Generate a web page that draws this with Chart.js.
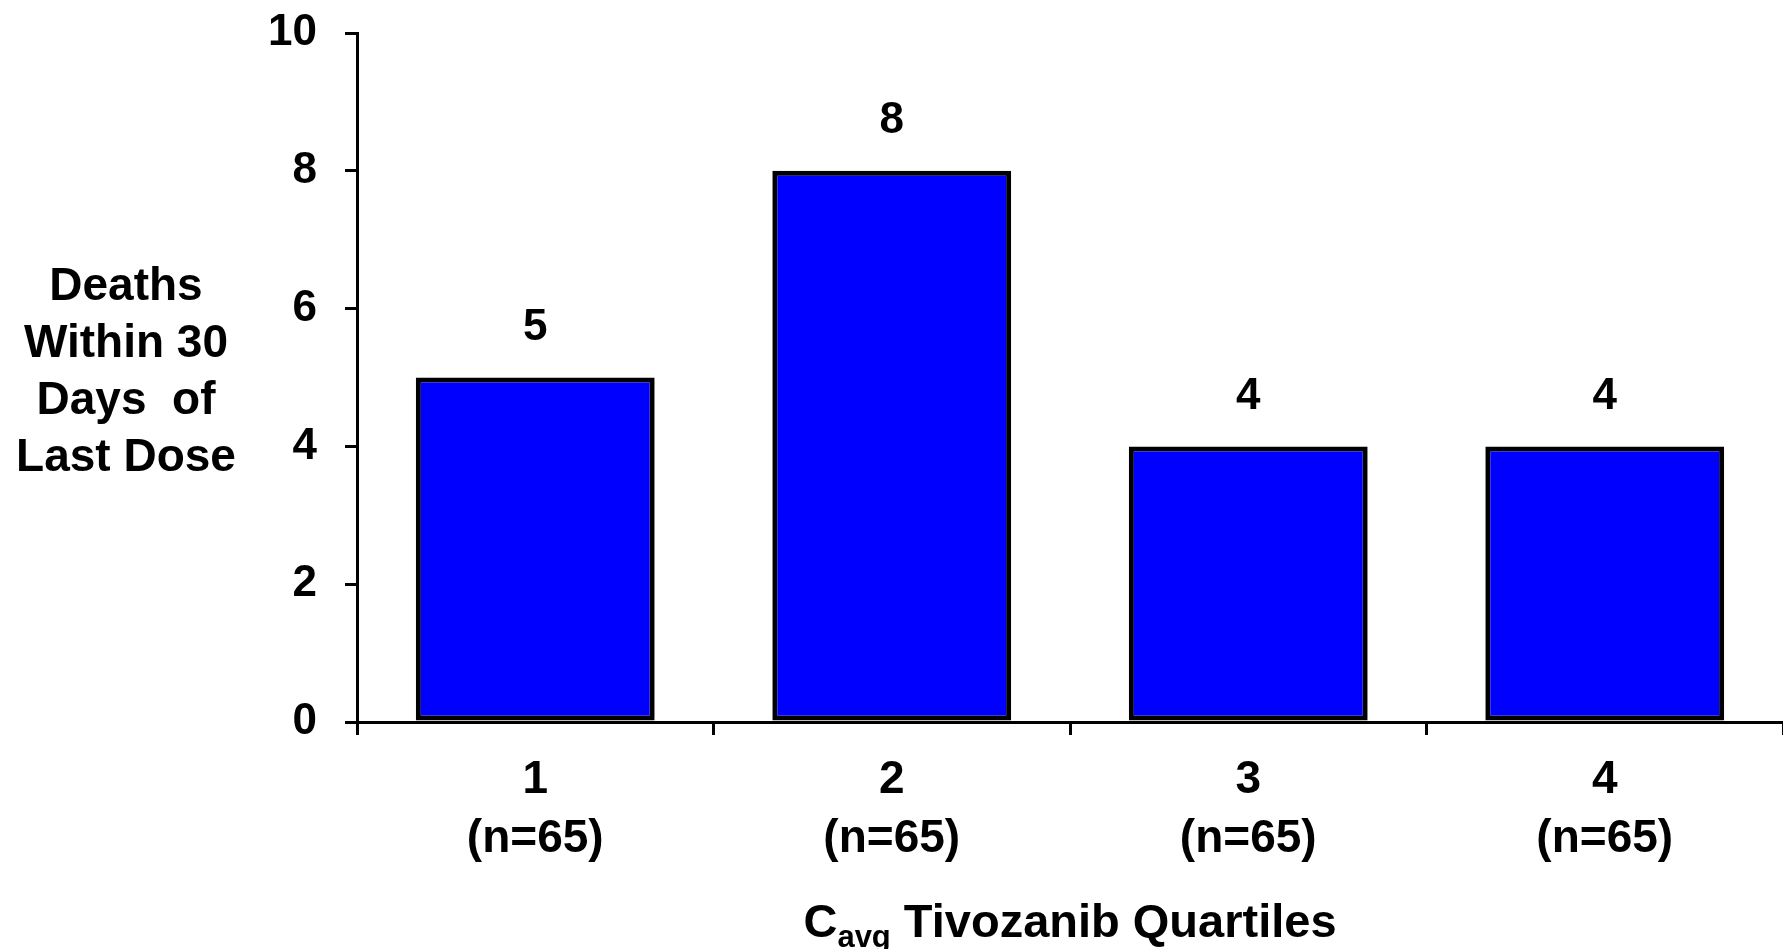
<!DOCTYPE html>
<html>
<head>
<meta charset="utf-8">
<title>Deaths within 30 days of last dose</title>
<script src="https://cdn.jsdelivr.net/npm/chart.js@4.4.0/dist/chart.umd.min.js"></script>
<style>
  html, body { margin: 0; padding: 0; background: #fff; }
  #wrap { width: 1783px; height: 949px; position: relative; }
</style>
</head>
<body>
<div id="wrap"><canvas id="chart" width="1783" height="949"></canvas></div>
<script>
// Data
const quartiles = ['1', '2', '3', '4'];
const sampleSizes = ['(n=65)', '(n=65)', '(n=65)', '(n=65)'];
const deaths = [5, 8, 4, 4];
const yTicks = [0, 2, 4, 6, 8, 10];
const yTitleLines = ['Deaths', 'Within 30', 'Days  of', 'Last Dose'];

const FONT = '"Liberation Sans", Arial, sans-serif';

// horizontal, multi-line y axis title on the left
const yTitlePlugin = {
  id: 'yTitle',
  afterDraw(chart) {
    const ctx = chart.ctx;
    const mid = (chart.chartArea.top + chart.chartArea.bottom) / 2;
    const lineH = 57;
    ctx.save();
    ctx.font = 'bold 46px ' + FONT;
    ctx.fillStyle = '#000';
    ctx.textAlign = 'center';
    ctx.textBaseline = 'alphabetic';
    const first = mid - lineH * (yTitleLines.length - 1) / 2 + 8;
    yTitleLines.forEach((line, i) => ctx.fillText(line, 126, first + i * lineH));
    ctx.restore();
  }
};

// "C avg Tivozanib Quartiles" with subscript, centred under the plot
const xTitlePlugin = {
  id: 'xTitle',
  afterDraw(chart) {
    const ctx = chart.ctx;
    const area = chart.chartArea;
    const baseY = 937;
    const bigFont = 'bold 47px ' + FONT;
    const subFont = 'bold 31px ' + FONT;
    ctx.save();
    ctx.fillStyle = '#000';
    ctx.textBaseline = 'alphabetic';
    ctx.textAlign = 'left';
    ctx.font = bigFont;
    const wC = ctx.measureText('C').width;
    const wRest = ctx.measureText(' Tivozanib Quartiles').width;
    ctx.font = subFont;
    const wSub = ctx.measureText('avg').width;
    const total = wC + wSub + wRest;
    let x = (area.left + area.right) / 2 - total / 2;
    ctx.font = bigFont;
    ctx.fillText('C', x, baseY);
    x += wC;
    ctx.font = subFont;
    ctx.fillText('avg', x, baseY + 10);
    x += wSub;
    ctx.font = bigFont;
    ctx.fillText(' Tivozanib Quartiles', x, baseY);
    ctx.restore();
  }
};

// value labels above bars
const valueLabelPlugin = {
  id: 'valueLabels',
  afterDatasetsDraw(chart) {
    const ctx = chart.ctx;
    const meta = chart.getDatasetMeta(0);
    ctx.save();
    ctx.font = 'bold 44px ' + FONT;
    ctx.fillStyle = '#000';
    ctx.textAlign = 'center';
    ctx.textBaseline = 'middle';
    meta.data.forEach((bar, i) => {
      ctx.fillText(String(deaths[i]), bar.x, bar.y - 50);
    });
    ctx.restore();
  }
};

new Chart(document.getElementById('chart'), {
  type: 'bar',
  data: {
    labels: quartiles.map((q, i) => [q, sampleSizes[i]]),
    datasets: [{
      data: deaths,
      backgroundColor: '#0000ff',
      borderColor: '#000',
      borderWidth: 5,
      borderSkipped: false,
      barPercentage: 0.67,
      categoryPercentage: 1
    }]
  },
  options: {
    responsive: false,
    animation: false,
    layout: { padding: { top: 33, right: 0, left: 0, bottom: 0 } },
    plugins: {
      legend: { display: false },
      tooltip: { enabled: false }
    },
    scales: {
      x: {
        grid: { drawOnChartArea: false, tickLength: 13, color: '#000', lineWidth: 3 },
        border: { color: '#000', width: 3 },
        ticks: {
          color: '#000',
          font: { family: FONT, size: 46, weight: 'bold', lineHeight: 1.28 },
          padding: 16
        },
        afterFit(scale) { scale.height = 949 - 722; }
      },
      y: {
        min: 0,
        max: 10,
        afterBuildTicks(scale) { scale.ticks = yTicks.map(v => ({ value: v })); },
        grid: { drawOnChartArea: false, tickLength: 12, color: '#000', lineWidth: 3 },
        border: { color: '#000', width: 3 },
        ticks: {
          color: '#000',
          font: { family: FONT, size: 44, weight: 'bold' },
          padding: 28
        },
        afterFit(scale) {
          scale.width = 357;
          scale.paddingTop = 0;
          scale.paddingBottom = 0;
        }
      }
    }
  },
  plugins: [yTitlePlugin, xTitlePlugin, valueLabelPlugin]
});
</script>
</body>
</html>
